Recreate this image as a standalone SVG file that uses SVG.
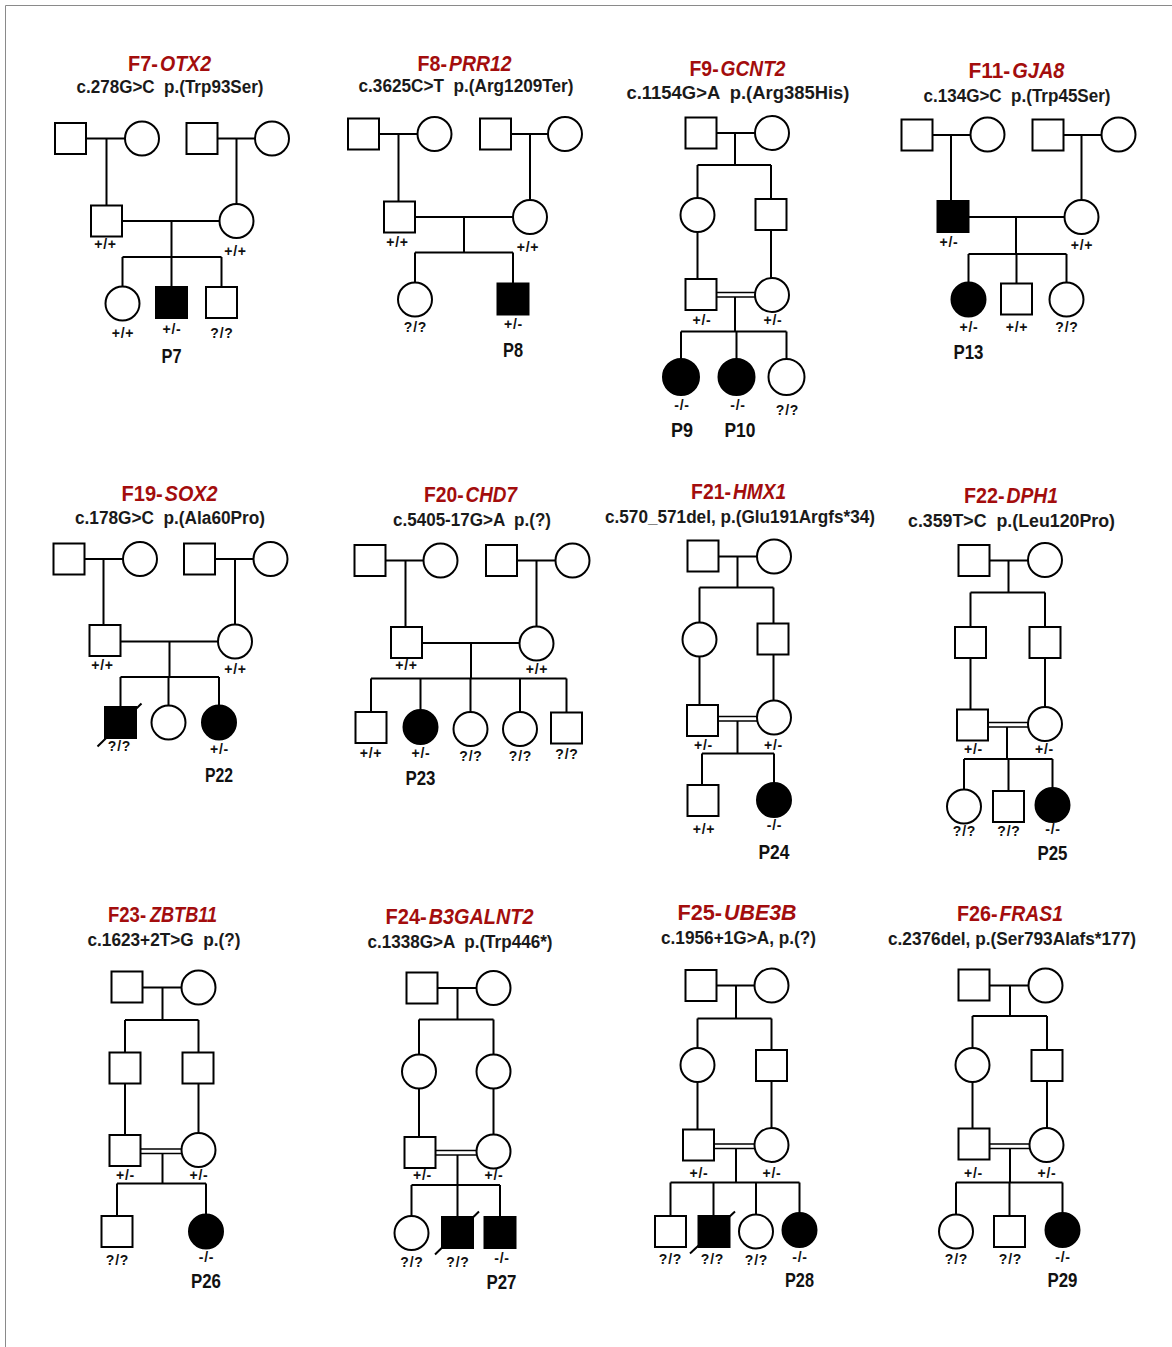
<svg xmlns="http://www.w3.org/2000/svg" width="1172" height="1347" viewBox="0 0 1172 1347">
<style>
.bg{fill:#fff}
.fr{fill:none;stroke:#8a8a8a;stroke-width:1}
.s{fill:#fff;stroke:#000;stroke-width:2}
.f{fill:#000}
.ln{fill:none;stroke:#000;stroke-width:2}
.ti{font-family:"Liberation Sans",Arial,sans-serif;font-size:22px;font-weight:bold;fill:#a30d0d}
.it{font-style:italic}
.mu{font-family:"Liberation Sans",Arial,sans-serif;font-size:18px;font-weight:bold;fill:#1a1a1a;text-anchor:middle;white-space:pre}
.gt{font-family:"Liberation Sans",Arial,sans-serif;font-size:14px;font-weight:bold;fill:#111;text-anchor:middle;letter-spacing:0.8px}
.pl{font-family:"Liberation Sans",Arial,sans-serif;font-size:20px;font-weight:bold;fill:#111;text-anchor:middle}
</style>
<rect class="bg" x="0" y="0" width="1172" height="1347"/>
<path class="fr" d="M5.5,1347 V5.5 H1172"/>

<!-- Titles -->
<g id="titles">
<text class="ti" x="128" y="70.5" textLength="29.9" lengthAdjust="spacingAndGlyphs">F7-</text><text class="ti it" x="160" y="70.5" textLength="51" lengthAdjust="spacingAndGlyphs">OTX2</text>
<text class="mu" x="170" y="93" textLength="187" lengthAdjust="spacingAndGlyphs" xml:space="preserve">c.278G&gt;C  p.(Trp93Ser)</text>
<text class="ti" x="417.5" y="70.5" textLength="29.5" lengthAdjust="spacingAndGlyphs">F8-</text><text class="ti it" x="449" y="70.5" textLength="62.5" lengthAdjust="spacingAndGlyphs">PRR12</text>
<text class="mu" x="466" y="92" textLength="215" lengthAdjust="spacingAndGlyphs" xml:space="preserve">c.3625C&gt;T  p.(Arg1209Ter)</text>
<text class="ti" x="689.5" y="76" textLength="29.1" lengthAdjust="spacingAndGlyphs">F9-</text><text class="ti it" x="720.6" y="76" textLength="64.9" lengthAdjust="spacingAndGlyphs">GCNT2</text>
<text class="mu" x="738" y="98.5" textLength="223" lengthAdjust="spacingAndGlyphs" xml:space="preserve">c.1154G&gt;A  p.(Arg385His)</text>
<text class="ti" x="968.5" y="78" textLength="41.8" lengthAdjust="spacingAndGlyphs">F11-</text><text class="ti it" x="1012.3" y="78" textLength="52.2" lengthAdjust="spacingAndGlyphs">GJA8</text>
<text class="mu" x="1017" y="101.5" textLength="187" lengthAdjust="spacingAndGlyphs" xml:space="preserve">c.134G&gt;C  p.(Trp45Ser)</text>

<text class="ti" x="121.5" y="500.5" textLength="41.3" lengthAdjust="spacingAndGlyphs">F19-</text><text class="ti it" x="164.8" y="500.5" textLength="52.7" lengthAdjust="spacingAndGlyphs">SOX2</text>
<text class="mu" x="170" y="524" textLength="190" lengthAdjust="spacingAndGlyphs" xml:space="preserve">c.178G&gt;C  p.(Ala60Pro)</text>
<text class="ti" x="424" y="502" textLength="39.6" lengthAdjust="spacingAndGlyphs">F20-</text><text class="ti it" x="465.6" y="502" textLength="51.4" lengthAdjust="spacingAndGlyphs">CHD7</text>
<text class="mu" x="472" y="525.5" textLength="158" lengthAdjust="spacingAndGlyphs" xml:space="preserve">c.5405-17G&gt;A  p.(?)</text>
<text class="ti" x="691" y="499" textLength="40" lengthAdjust="spacingAndGlyphs">F21-</text><text class="ti it" x="733" y="499" textLength="53" lengthAdjust="spacingAndGlyphs">HMX1</text>
<text class="mu" x="740" y="522.5" textLength="270" lengthAdjust="spacingAndGlyphs" xml:space="preserve">c.570_571del, p.(Glu191Argfs*34)</text>
<text class="ti" x="964" y="503" textLength="40.5" lengthAdjust="spacingAndGlyphs">F22-</text><text class="ti it" x="1006.5" y="503" textLength="51.5" lengthAdjust="spacingAndGlyphs">DPH1</text>
<text class="mu" x="1011.5" y="526.5" textLength="207" lengthAdjust="spacingAndGlyphs" xml:space="preserve">c.359T&gt;C  p.(Leu120Pro)</text>

<text class="ti" x="108" y="921.5" textLength="38.1" lengthAdjust="spacingAndGlyphs">F23-</text><text class="ti it" x="150" y="921.5" textLength="67" lengthAdjust="spacingAndGlyphs">ZBTB11</text>
<text class="mu" x="164" y="946" textLength="153" lengthAdjust="spacingAndGlyphs" xml:space="preserve">c.1623+2T&gt;G  p.(?)</text>
<text class="ti" x="385.5" y="924" textLength="41.2" lengthAdjust="spacingAndGlyphs">F24-</text><text class="ti it" x="428.7" y="924" textLength="104.8" lengthAdjust="spacingAndGlyphs">B3GALNT2</text>
<text class="mu" x="460" y="948" textLength="185" lengthAdjust="spacingAndGlyphs" xml:space="preserve">c.1338G&gt;A  p.(Trp446*)</text>
<text class="ti" x="677.5" y="919.5" textLength="44.6" lengthAdjust="spacingAndGlyphs">F25-</text><text class="ti it" x="724.1" y="919.5" textLength="72.4" lengthAdjust="spacingAndGlyphs">UBE3B</text>
<text class="mu" x="738.5" y="943.5" textLength="155" lengthAdjust="spacingAndGlyphs" xml:space="preserve">c.1956+1G&gt;A, p.(?)</text>
<text class="ti" x="957" y="920.5" textLength="40.5" lengthAdjust="spacingAndGlyphs">F26-</text><text class="ti it" x="999.5" y="920.5" textLength="63.5" lengthAdjust="spacingAndGlyphs">FRAS1</text>
<text class="mu" x="1012" y="945" textLength="248" lengthAdjust="spacingAndGlyphs" xml:space="preserve">c.2376del, p.(Ser793Alafs*177)</text>
</g>

<!-- Connectors -->
<g id="connectors" class="ln">
<path d="M86,138.5 H125 M106.5,138.5 V206 M217.5,138.5 H255 M236.5,138.5 V204 M122,221 H219.5 M171.5,221 V257 M122.5,257 H221.5 M122.5,257 V286.5 M171.5,257 V287 M221.5,257 V287"/>
<path d="M379,134 H417.5 M398.5,134 V201.5 M511,134 H548 M530,134 V200 M415,217 H513 M464,217 V252.5 M415,252.5 H513 M415,252.5 V282.5 M513,252.5 V283.5"/>
<path d="M716.5,133 H755 M735,133 V165 M697.5,165 H771 M697.5,165 V198 M771,165 V199 M697.5,232 V279 M771,230 V278 M735,297 V331.5 M681,331.5 H786.5 M681,331.5 V359 M736.5,331.5 V359 M786.5,331.5 V359"/>
<path d="M716.5,292.5 H755 M716.5,297 H755" stroke-width="1.6"/>
<path d="M932.5,135 H970.5 M951,135 V201 M1063.5,135 H1101.5 M1081.5,135 V200 M968.5,217 H1064.5 M1016,217 V254 M968.5,254 H1066.5 M968.5,254 V282.5 M1016.5,254 V283.5 M1066.5,254 V282.5"/>
<path d="M84.5,559 H123 M103.5,559 V625 M215,559 H253.5 M235,559 V624.5 M120.5,641.5 H218 M169.5,641.5 V677 M120.5,677 H219 M120.5,677 V707 M168.5,677 V705.5 M219,677 V705.5"/>
<path d="M97.5,746.5 L141.5,703.5"/>
<path d="M385.5,560.5 H423.5 M405.5,560.5 V627 M517,560.5 H555.5 M536.5,560.5 V626.5 M422,643 H519.5 M471,643 V678.5 M371,678.5 H566.5 M371,678.5 V712 M420.5,678.5 V710 M470.5,678.5 V712 M520,678.5 V712 M566.5,678.5 V712.5"/>
<path d="M718.5,556.5 H757 M737.5,556.5 V587.5 M699.5,587.5 H773.5 M699.5,587.5 V622.5 M773.5,587.5 V623.5 M699.5,656.5 V705 M773.5,654.5 V700.5 M737.5,721 V753.5 M702,753.5 H774 M702,753.5 V785 M774,753.5 V783"/>
<path d="M718,716.5 H757 M718,721 H757" stroke-width="1.6"/>
<path d="M989.5,560.5 H1028 M1008.5,560.5 V592.5 M970.5,592.5 H1045 M970.5,592.5 V627 M1045,592.5 V627 M970.5,658 V709.5 M1045,658 V707 M1007,727 V759 M964,759 H1052.5 M964,759 V789.5 M1008.5,759 V791 M1052.5,759 V788"/>
<path d="M988,722.5 H1028 M988,727 H1028" stroke-width="1.6"/>
<path d="M142.5,987.5 H181.5 M162.5,987.5 V1020 M125,1020 H198.5 M125,1020 V1052.5 M198.5,1020 V1052.5 M125,1083.5 V1135 M198.5,1083.5 V1133 M162.5,1153.5 V1183.5 M117,1183.5 H206 M117,1183.5 V1216 M206,1183.5 V1214.5"/>
<path d="M140.5,1149 H181.5 M140.5,1153.5 H181.5" stroke-width="1.6"/>
<path d="M437.5,988 H476.5 M457.5,988 V1019.5 M419,1019.5 H493.5 M419,1019.5 V1054.5 M493.5,1019.5 V1054.5 M419,1088.5 V1137 M493.5,1088.5 V1134.5 M457.5,1155 V1185 M411.5,1185 H500 M411.5,1185 V1216 M457.5,1185 V1217 M500,1185 V1217"/>
<path d="M435.5,1150.5 H476.5 M435.5,1155 H476.5" stroke-width="1.6"/>
<path d="M435,1254.5 L479,1211.5"/>
<path d="M716.5,985.5 H754.5 M736,985.5 V1018.5 M697.5,1018.5 H771.5 M697.5,1018.5 V1048 M771.5,1018.5 V1050 M697.5,1082 V1129.5 M771.5,1081 V1128 M736,1148.5 V1182.5 M670.5,1182.5 H799.5 M670.5,1182.5 V1216 M713.5,1182.5 V1216 M756,1182.5 V1214.5 M799.5,1182.5 V1213"/>
<path d="M714,1144 H754.5 M714,1148.5 H754.5" stroke-width="1.6"/>
<path d="M690,1253.5 L735,1211.5"/>
<path d="M989.5,985.5 H1028.5 M1010,985.5 V1016 M972.5,1016 H1047 M972.5,1016 V1048 M1047,1016 V1050 M972.5,1082 V1128.5 M1047,1081 V1128 M1010,1148.5 V1182.5 M956,1182.5 H1062.5 M956,1182.5 V1214.5 M1009.5,1182.5 V1216 M1062.5,1182.5 V1213"/>
<path d="M989.5,1144 H1029.5 M989.5,1148.5 H1029.5" stroke-width="1.6"/>
</g>

<!-- F7 nodes -->
<g id="f7-pgf"><rect class="s" x="55" y="123" width="31" height="31"/></g>
<g id="f7-pgm"><circle class="s" cx="142" cy="138.5" r="17"/></g>
<g id="f7-mgf"><rect class="s" x="186.5" y="123" width="31" height="31"/></g>
<g id="f7-mgm"><circle class="s" cx="272" cy="138.5" r="17"/></g>
<g id="f7-father"><rect class="s" x="91" y="205.5" width="31" height="31"/><text class="gt" x="105.5" y="249">+/+</text></g>
<g id="f7-mother"><circle class="s" cx="236.5" cy="221" r="17"/><text class="gt" x="235.5" y="256">+/+</text></g>
<g id="f7-c1"><circle class="s" cx="122.5" cy="303.5" r="17"/><text class="gt" x="123" y="337.5">+/+</text></g>
<g id="f7-p7"><rect class="s f" x="156" y="287" width="31" height="31"/><text class="gt" x="172" y="334">+/-</text><text class="pl" x="171.5" y="363" textLength="20" lengthAdjust="spacingAndGlyphs">P7</text></g>
<g id="f7-c3"><rect class="s" x="206" y="287" width="31" height="31"/><text class="gt" x="222" y="337.5">?/?</text></g>

<!-- F8 nodes -->
<g id="f8-pgf"><rect class="s" x="348" y="118.5" width="31" height="31"/></g>
<g id="f8-pgm"><circle class="s" cx="434.5" cy="134" r="17"/></g>
<g id="f8-mgf"><rect class="s" x="480" y="118.5" width="31" height="31"/></g>
<g id="f8-mgm"><circle class="s" cx="565" cy="134" r="17"/></g>
<g id="f8-father"><rect class="s" x="384" y="201.5" width="31" height="31"/><text class="gt" x="397.5" y="246.5">+/+</text></g>
<g id="f8-mother"><circle class="s" cx="530" cy="217" r="17"/><text class="gt" x="528" y="251.5">+/+</text></g>
<g id="f8-c1"><circle class="s" cx="415" cy="299.5" r="17"/><text class="gt" x="415.5" y="331.5">?/?</text></g>
<g id="f8-p8"><rect class="s f" x="497.5" y="283.5" width="31" height="31"/><text class="gt" x="513.5" y="328.5">+/-</text><text class="pl" x="513" y="356.5" textLength="20" lengthAdjust="spacingAndGlyphs">P8</text></g>

<!-- F9 nodes -->
<g id="f9-gf"><rect class="s" x="685.5" y="117.5" width="31" height="31"/></g>
<g id="f9-gm"><circle class="s" cx="772" cy="133" r="17"/></g>
<g id="f9-a1"><circle class="s" cx="697.5" cy="215" r="17"/></g>
<g id="f9-a2"><rect class="s" x="755.5" y="199" width="31" height="31"/></g>
<g id="f9-father"><rect class="s" x="685.5" y="279" width="31" height="31"/><text class="gt" x="702" y="325">+/-</text></g>
<g id="f9-mother"><circle class="s" cx="772" cy="295" r="17"/><text class="gt" x="773" y="325">+/-</text></g>
<g id="f9-p9"><circle class="s f" cx="681" cy="377" r="18"/><text class="gt" x="682" y="410">-/-</text><text class="pl" x="682" y="436.5" textLength="22" lengthAdjust="spacingAndGlyphs">P9</text></g>
<g id="f9-p10"><circle class="s f" cx="736.5" cy="377" r="18"/><text class="gt" x="738" y="410">-/-</text><text class="pl" x="740" y="436.5" textLength="31" lengthAdjust="spacingAndGlyphs">P10</text></g>
<g id="f9-c3"><circle class="s" cx="786.5" cy="377" r="18"/><text class="gt" x="787.5" y="415">?/?</text></g>

<!-- F11 nodes -->
<g id="f11-pgf"><rect class="s" x="901.5" y="119.5" width="31" height="31"/></g>
<g id="f11-pgm"><circle class="s" cx="987.5" cy="134.5" r="17"/></g>
<g id="f11-mgf"><rect class="s" x="1032.5" y="119.5" width="31" height="31"/></g>
<g id="f11-mgm"><circle class="s" cx="1118.5" cy="134.5" r="17"/></g>
<g id="f11-father"><rect class="s f" x="937.5" y="201" width="31" height="31"/><text class="gt" x="949" y="246.5">+/-</text></g>
<g id="f11-mother"><circle class="s" cx="1081.5" cy="217" r="17"/><text class="gt" x="1082" y="250">+/+</text></g>
<g id="f11-p13"><circle class="s f" cx="968.5" cy="299.5" r="17"/><text class="gt" x="969" y="331.5">+/-</text><text class="pl" x="968.5" y="358.5" textLength="30" lengthAdjust="spacingAndGlyphs">P13</text></g>
<g id="f11-c2"><rect class="s" x="1001" y="283.5" width="31" height="31"/><text class="gt" x="1017" y="331.5">+/+</text></g>
<g id="f11-c3"><circle class="s" cx="1066.5" cy="299.5" r="17"/><text class="gt" x="1067" y="331.5">?/?</text></g>

<!-- F19 nodes -->
<g id="f19-pgf"><rect class="s" x="53.5" y="543.5" width="31" height="31"/></g>
<g id="f19-pgm"><circle class="s" cx="140" cy="559" r="17"/></g>
<g id="f19-mgf"><rect class="s" x="184" y="543.5" width="31" height="31"/></g>
<g id="f19-mgm"><circle class="s" cx="270.5" cy="559" r="17"/></g>
<g id="f19-father"><rect class="s" x="89.5" y="625" width="31" height="31"/><text class="gt" x="102.5" y="669.5">+/+</text></g>
<g id="f19-mother"><circle class="s" cx="235" cy="641.5" r="17"/><text class="gt" x="235.5" y="674">+/+</text></g>
<g id="f19-c1"><rect class="s f" x="105" y="707" width="31" height="31"/><text class="gt" x="119.5" y="751">?/?</text></g>
<g id="f19-c2"><circle class="s" cx="168.5" cy="722.5" r="17"/></g>
<g id="f19-p22"><circle class="s f" cx="219" cy="722.5" r="17"/><text class="gt" x="219.5" y="753.5">+/-</text><text class="pl" x="219" y="781.5" textLength="28" lengthAdjust="spacingAndGlyphs">P22</text></g>

<!-- F20 nodes -->
<g id="f20-pgf"><rect class="s" x="354.5" y="545" width="31" height="31"/></g>
<g id="f20-pgm"><circle class="s" cx="440.5" cy="560.5" r="17"/></g>
<g id="f20-mgf"><rect class="s" x="486" y="545" width="31" height="31"/></g>
<g id="f20-mgm"><circle class="s" cx="572.5" cy="560.5" r="17"/></g>
<g id="f20-father"><rect class="s" x="391" y="627" width="31" height="31"/><text class="gt" x="406.5" y="670">+/+</text></g>
<g id="f20-mother"><circle class="s" cx="536.5" cy="643.5" r="17"/><text class="gt" x="537" y="674">+/+</text></g>
<g id="f20-c1"><rect class="s" x="355.5" y="712" width="31" height="31"/><text class="gt" x="371" y="757.5">+/+</text></g>
<g id="f20-p23"><circle class="s f" cx="420.5" cy="727" r="17"/><text class="gt" x="421" y="757.5">+/-</text><text class="pl" x="420.5" y="785" textLength="30" lengthAdjust="spacingAndGlyphs">P23</text></g>
<g id="f20-c3"><circle class="s" cx="470.5" cy="729" r="17"/><text class="gt" x="471" y="761">?/?</text></g>
<g id="f20-c4"><circle class="s" cx="520" cy="729" r="17"/><text class="gt" x="520.5" y="761">?/?</text></g>
<g id="f20-c5"><rect class="s" x="551" y="712.5" width="31" height="31"/><text class="gt" x="567" y="759">?/?</text></g>

<!-- F21 nodes -->
<g id="f21-gf"><rect class="s" x="687.5" y="540.5" width="31" height="31"/></g>
<g id="f21-gm"><circle class="s" cx="774" cy="556.5" r="17"/></g>
<g id="f21-a1"><circle class="s" cx="699.5" cy="639.5" r="17"/></g>
<g id="f21-a2"><rect class="s" x="757.5" y="623.5" width="31" height="31"/></g>
<g id="f21-father"><rect class="s" x="687" y="705" width="31" height="31"/><text class="gt" x="703.5" y="749.5">+/-</text></g>
<g id="f21-mother"><circle class="s" cx="774" cy="717.5" r="17"/><text class="gt" x="773.5" y="749.5">+/-</text></g>
<g id="f21-c1"><rect class="s" x="687.5" y="785" width="31" height="31"/><text class="gt" x="704" y="833.5">+/+</text></g>
<g id="f21-p24"><circle class="s f" cx="774" cy="800" r="17"/><text class="gt" x="774.5" y="830">-/-</text><text class="pl" x="774" y="858.5" textLength="31" lengthAdjust="spacingAndGlyphs">P24</text></g>

<!-- F22 nodes -->
<g id="f22-gf"><rect class="s" x="958.5" y="545" width="31" height="31"/></g>
<g id="f22-gm"><circle class="s" cx="1045" cy="560" r="17"/></g>
<g id="f22-a1"><rect class="s" x="955" y="627" width="31" height="31"/></g>
<g id="f22-a2"><rect class="s" x="1029.5" y="627" width="31" height="31"/></g>
<g id="f22-father"><rect class="s" x="957" y="709.5" width="31" height="31"/><text class="gt" x="973.5" y="753.5">+/-</text></g>
<g id="f22-mother"><circle class="s" cx="1045" cy="724" r="17"/><text class="gt" x="1044.5" y="753.5">+/-</text></g>
<g id="f22-c1"><circle class="s" cx="964" cy="806.5" r="17"/><text class="gt" x="964.5" y="835.5">?/?</text></g>
<g id="f22-c2"><rect class="s" x="993" y="791" width="31" height="31"/><text class="gt" x="1009" y="835.5">?/?</text></g>
<g id="f22-p25"><circle class="s f" cx="1052.5" cy="805" r="17"/><text class="gt" x="1053" y="833.5">-/-</text><text class="pl" x="1052.5" y="860" textLength="30" lengthAdjust="spacingAndGlyphs">P25</text></g>

<!-- F23 nodes -->
<g id="f23-gf"><rect class="s" x="111.5" y="971.5" width="31" height="31"/></g>
<g id="f23-gm"><circle class="s" cx="198.5" cy="987.5" r="17"/></g>
<g id="f23-a1"><rect class="s" x="109.5" y="1052.5" width="31" height="31"/></g>
<g id="f23-a2"><rect class="s" x="182.5" y="1052.5" width="31" height="31"/></g>
<g id="f23-father"><rect class="s" x="109.5" y="1135" width="31" height="31"/><text class="gt" x="125.5" y="1179.5">+/-</text></g>
<g id="f23-mother"><circle class="s" cx="198.5" cy="1150" r="17"/><text class="gt" x="199" y="1179.5">+/-</text></g>
<g id="f23-c1"><rect class="s" x="101.5" y="1216" width="31" height="31"/><text class="gt" x="117.5" y="1265">?/?</text></g>
<g id="f23-p26"><circle class="s f" cx="206" cy="1231.5" r="17"/><text class="gt" x="206.5" y="1261.5">-/-</text><text class="pl" x="206" y="1287.5" textLength="30" lengthAdjust="spacingAndGlyphs">P26</text></g>

<!-- F24 nodes -->
<g id="f24-gf"><rect class="s" x="406.5" y="972.5" width="31" height="31"/></g>
<g id="f24-gm"><circle class="s" cx="493.5" cy="988" r="17"/></g>
<g id="f24-a1"><circle class="s" cx="419" cy="1071.5" r="17"/></g>
<g id="f24-a2"><circle class="s" cx="493.5" cy="1071.5" r="17"/></g>
<g id="f24-father"><rect class="s" x="404.5" y="1137" width="31" height="31"/><text class="gt" x="422.5" y="1180">+/-</text></g>
<g id="f24-mother"><circle class="s" cx="493.5" cy="1151.5" r="17"/><text class="gt" x="494" y="1180">+/-</text></g>
<g id="f24-c1"><circle class="s" cx="411.5" cy="1233" r="17"/><text class="gt" x="412" y="1266.5">?/?</text></g>
<g id="f24-c2"><rect class="s f" x="442" y="1217" width="31" height="31"/><text class="gt" x="458" y="1266.5">?/?</text></g>
<g id="f24-p27"><rect class="s f" x="484.5" y="1217" width="31" height="31"/><text class="gt" x="502" y="1262.5">-/-</text><text class="pl" x="501.5" y="1288.5" textLength="30" lengthAdjust="spacingAndGlyphs">P27</text></g>

<!-- F25 nodes -->
<g id="f25-gf"><rect class="s" x="685.5" y="970" width="31" height="31"/></g>
<g id="f25-gm"><circle class="s" cx="771.5" cy="985.5" r="17"/></g>
<g id="f25-a1"><circle class="s" cx="697.5" cy="1065" r="17"/></g>
<g id="f25-a2"><rect class="s" x="756" y="1050" width="31" height="31"/></g>
<g id="f25-father"><rect class="s" x="683" y="1129.5" width="31" height="31"/><text class="gt" x="699" y="1177.5">+/-</text></g>
<g id="f25-mother"><circle class="s" cx="771.5" cy="1145" r="17"/><text class="gt" x="772" y="1177.5">+/-</text></g>
<g id="f25-c1"><rect class="s" x="655" y="1216" width="31" height="31"/><text class="gt" x="670.5" y="1264">?/?</text></g>
<g id="f25-c2"><rect class="s f" x="698.5" y="1216" width="31" height="31"/><text class="gt" x="712.5" y="1264">?/?</text></g>
<g id="f25-c3"><circle class="s" cx="756" cy="1231.5" r="17"/><text class="gt" x="756.5" y="1265">?/?</text></g>
<g id="f25-p28"><circle class="s f" cx="799.5" cy="1230" r="17"/><text class="gt" x="800" y="1261.5">-/-</text><text class="pl" x="799.5" y="1286.5" textLength="29" lengthAdjust="spacingAndGlyphs">P28</text></g>

<!-- F26 nodes -->
<g id="f26-gf"><rect class="s" x="958.5" y="969.5" width="31" height="31"/></g>
<g id="f26-gm"><circle class="s" cx="1045.5" cy="985.5" r="17"/></g>
<g id="f26-a1"><circle class="s" cx="972.5" cy="1065" r="17"/></g>
<g id="f26-a2"><rect class="s" x="1031.5" y="1050" width="31" height="31"/></g>
<g id="f26-father"><rect class="s" x="958.5" y="1128.5" width="31" height="31"/><text class="gt" x="973.5" y="1177.5">+/-</text></g>
<g id="f26-mother"><circle class="s" cx="1046.5" cy="1145" r="17"/><text class="gt" x="1047" y="1177.5">+/-</text></g>
<g id="f26-c1"><circle class="s" cx="956" cy="1231.5" r="17"/><text class="gt" x="956.5" y="1264">?/?</text></g>
<g id="f26-c2"><rect class="s" x="994" y="1216" width="31" height="31"/><text class="gt" x="1010.5" y="1264">?/?</text></g>
<g id="f26-p29"><circle class="s f" cx="1062.5" cy="1230" r="17"/><text class="gt" x="1063" y="1261.5">-/-</text><text class="pl" x="1062.5" y="1286.5" textLength="30" lengthAdjust="spacingAndGlyphs">P29</text></g>
</svg>
